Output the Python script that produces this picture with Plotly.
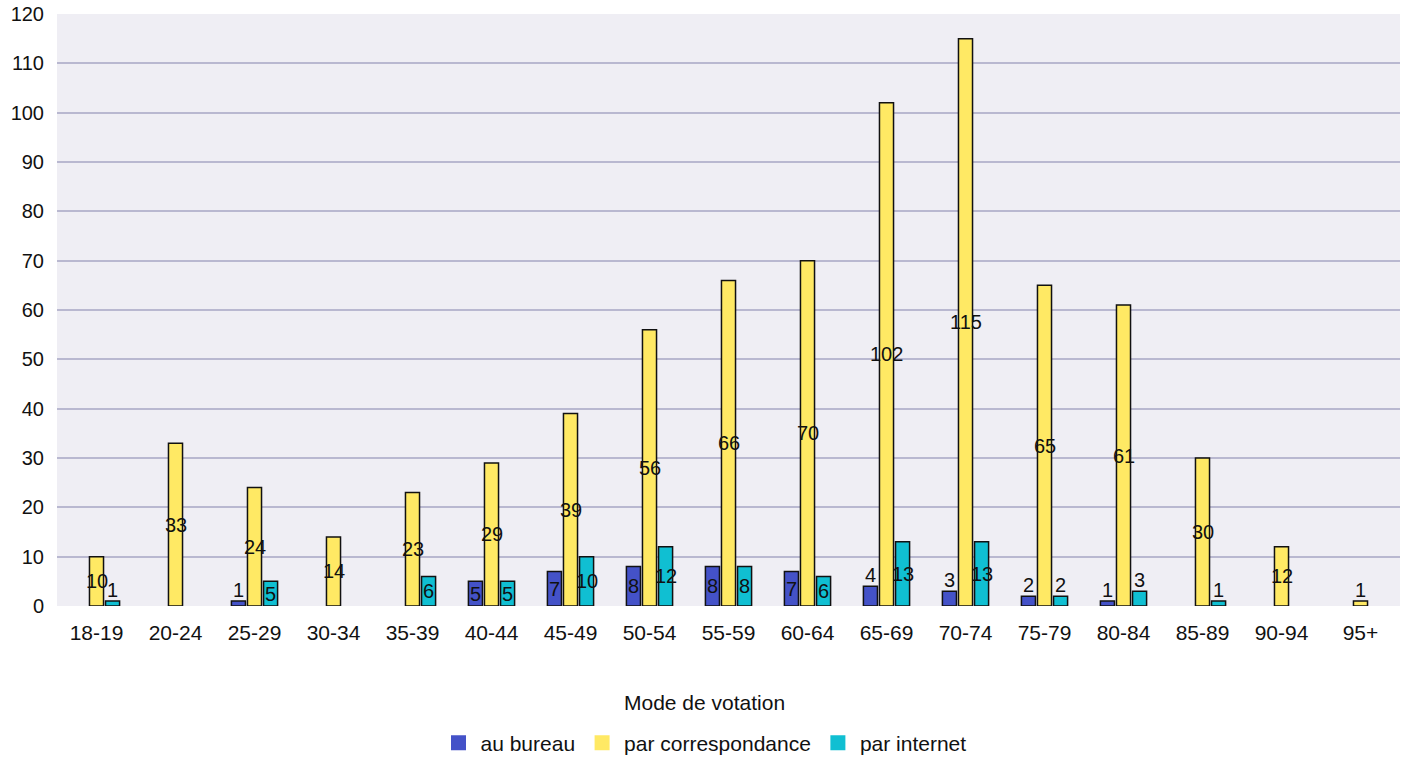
import plotly.graph_objects as go

categories = ["18-19", "20-24", "25-29", "30-34", "35-39", "40-44", "45-49", "50-54",
              "55-59", "60-64", "65-69", "70-74", "75-79", "80-84", "85-89", "90-94", "95+"]
au_bureau = [None, None, 1, None, None, 5, 7, 8, 8, 7, 4, 3, 2, 1, None, None, None]
par_correspondance = [10, 33, 24, 14, 23, 29, 39, 56, 66, 70, 102, 115, 65, 61, 30, 12, 1]
par_internet = [1, None, 5, None, 6, 5, 10, 12, 8, 6, 13, 13, 2, 3, 1, None, None]

series = [
    ("au bureau", au_bureau, "#4452c8", -16),
    ("par correspondance", par_correspondance, "#ffe964", 0),
    ("par internet", par_internet, "#10bfd2", 16),
]

W, H = 1408, 759
ML, MR, MT, MB = 57, 8, 14, 153
font = "Liberation Sans, Arial, sans-serif"
fig = go.Figure()
annotations = []
for name, vals, color, shift in series:
    fig.add_trace(go.Bar(
        name=name, x=categories, y=vals, showlegend=False,
        marker=dict(color=color, line=dict(color="#111111", width=1.5)),
    ))
    for c, v in zip(categories, vals):
        if v is None:
            continue
        if v >= 5:
            annotations.append(dict(x=c, y=v / 2, text=str(v), showarrow=False,
                                    xshift=shift, yanchor="middle",
                                    font=dict(size=20, color="#111111", family=font)))
        else:
            annotations.append(dict(x=c, y=v, text=str(v), showarrow=False,
                                    xshift=shift, yanchor="bottom", yshift=-2,
                                    font=dict(size=20, color="#111111", family=font)))

# legend-only entries (square swatches without outline)
for name, vals, color, shift in series:
    fig.add_trace(go.Scatter(
        name=name, x=[None], y=[None], mode="markers",
        marker=dict(symbol="square", size=15, color=color, line=dict(width=0)),
        showlegend=True,
    ))

plot_w = W - ML - MR
plot_h = H - MT - MB
annotations.append(dict(text="Mode de votation", x=(704 - ML) / plot_w, xref="paper",
                        xanchor="center",
                        y=(H - MB - 702) / plot_h, yref="paper", yanchor="middle",
                        showarrow=False, font=dict(size=21, color="#111111", family=font)))

fig.update_layout(
    width=W, height=H,
    margin=dict(l=ML, r=MR, t=MT, b=MB, autoexpand=False),
    paper_bgcolor="white",
    plot_bgcolor="#efeef4",
    barmode="group",
    bargap=0.39,
    bargroupgap=0.125,
    font=dict(family=font, size=20, color="#111111"),
    annotations=annotations,
    showlegend=True,
    legend=dict(
        orientation="h", x=704 / W, xanchor="center", xref="container",
        y=(H - 743) / H, yanchor="middle", yref="container",
        font=dict(size=21),
        traceorder="normal",
        itemwidth=34,
        bgcolor="rgba(0,0,0,0)",
    ),
    xaxis=dict(showgrid=False, ticks="", tickfont=dict(size=21), ticklabelstandoff=12,
               automargin=False),
    yaxis=dict(range=[0, 120], dtick=10, gridcolor="#b9b8d0", gridwidth=1.5,
               zeroline=False, showline=False, tickfont=dict(size=20), ticklabelstandoff=12,
               automargin=False, ticklabeloverflow="allow"),
)

fig.write_html(
    "out.html",
    config={"displayModeBar": False},
    post_script="document.body.style.margin='0';document.body.style.overflow='hidden';",
)
